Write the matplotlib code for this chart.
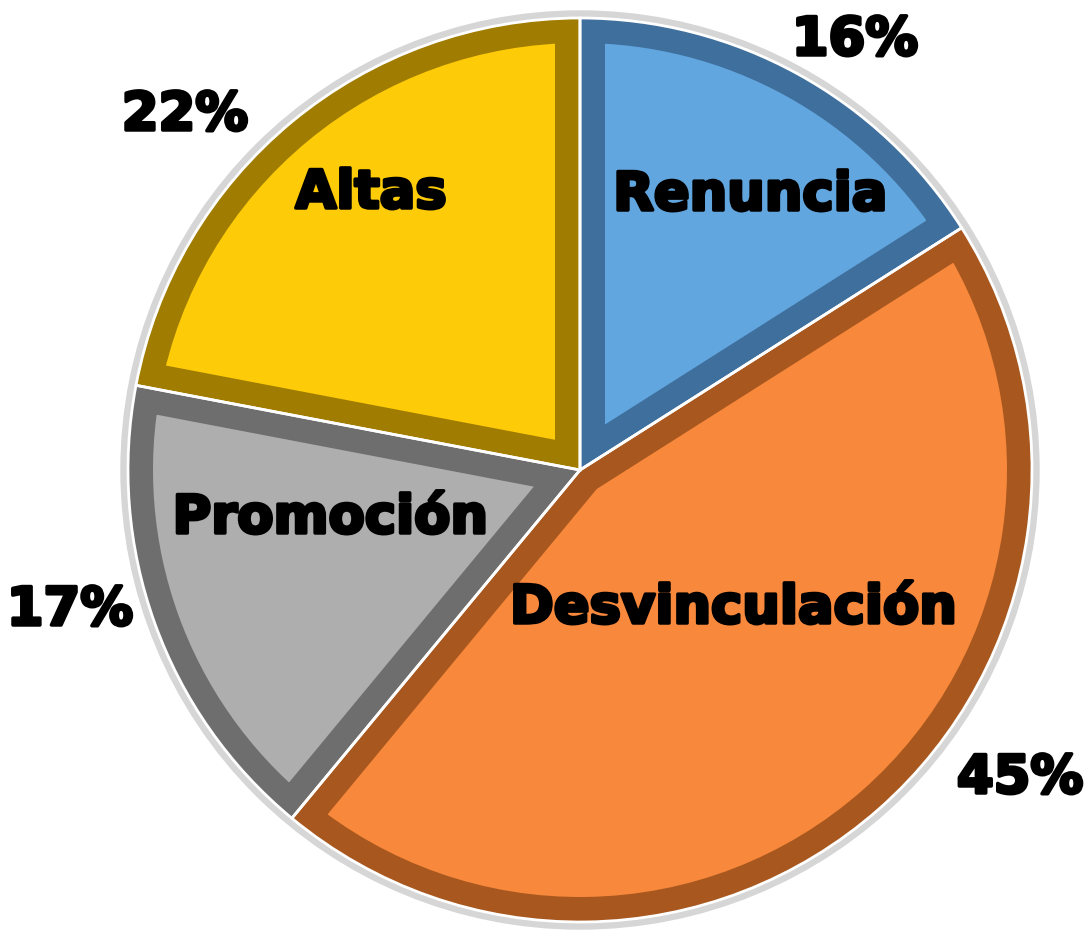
import matplotlib.pyplot as plt
import matplotlib.patheffects as pe
from matplotlib.patches import PathPatch, Circle

# data
labels = ["Renuncia", "Desvinculación", "Promoción", "Altas"]
values = [16, 45, 17, 22]
pct_labels = ["16%", "45%", "17%", "22%"]

colors = ["#62A6E0", "#F8883B", "#AEAEAE", "#FDCB08"]
dark_colors = ["#3F6F9C", "#A8581F", "#6E6E6E", "#A07C00"]

# label positions (pixels of the reference image)
name_pos = [(750, 195), (733, 608), (330, 518), (371, 193)]
pct_pos = [(855, 40), (1020, 778), (70, 610), (185, 115)]

W, H = 1084, 930
fig = plt.figure(figsize=(W / 100, H / 100), dpi=100)
ax = fig.add_axes([0, 0, 1, 1])

cx, cy, r = 580, 470, 452

# light halo behind the pie
ax.add_patch(Circle((cx, cy), r + 7, color="#D6D6D6", zorder=0))

# y axis is inverted, so counterclock=True draws clockwise on screen
wedges, _ = ax.pie(values, colors=colors, startangle=-90, counterclock=True,
                   center=(cx, cy), radius=r, frame=True,
                   wedgeprops=dict(linewidth=0))
ax.set_xlim(0, W)
ax.set_ylim(H, 0)
ax.set_aspect("equal")
ax.axis("off")

# bevel: thick darker edge clipped to the wedge itself
for w, dc in zip(wedges, dark_colors):
    w.set_zorder(1)
    bevel = PathPatch(w.get_path(), transform=w.get_transform(),
                      facecolor="none", edgecolor=dc, linewidth=36, zorder=2)
    ax.add_patch(bevel)
    bevel.set_clip_path(w)
    edge = PathPatch(w.get_path(), transform=w.get_transform(),
                     facecolor="none", edgecolor="white", linewidth=2, zorder=3)
    ax.add_patch(edge)

stroke = [pe.withStroke(linewidth=2.5, foreground="black")]
for name, (x, y) in zip(labels, name_pos):
    ax.text(x, y, name, ha="center", va="center", fontsize=38, fontweight="bold",
            color="black", family="DejaVu Sans", path_effects=stroke, zorder=5)
for p, (x, y) in zip(pct_labels, pct_pos):
    ax.text(x, y, p, ha="center", va="center", fontsize=38, fontweight="bold",
            color="black", family="DejaVu Sans", path_effects=stroke, zorder=5)

fig.savefig("out.png", dpi=100)
